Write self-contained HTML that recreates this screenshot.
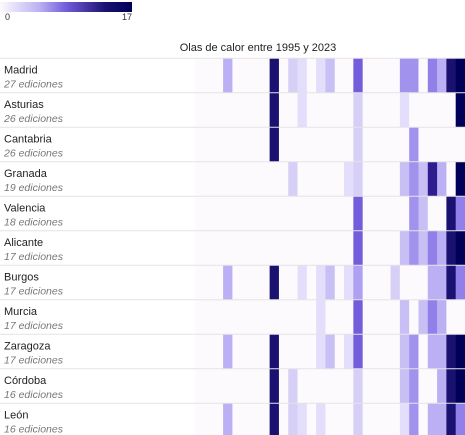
<!DOCTYPE html>
<html><head><meta charset="utf-8"><style>
body{margin:0;width:465px;height:435px;background:#fff;font-family:"Liberation Sans",sans-serif;overflow:hidden}
svg{display:block}
</style></head><body>
<svg id="chart" width="465" height="435">
<defs><linearGradient id="lg" x1="0" x2="1" y1="0" y2="0">
<stop offset="0" stop-color="#fdfafd"/><stop offset="0.3" stop-color="#bbb0f3"/><stop offset="0.5" stop-color="#735ddb"/><stop offset="0.8" stop-color="#1a1270"/><stop offset="1" stop-color="#000058"/></linearGradient></defs>
<rect x="0" y="2" width="132" height="10" fill="url(#lg)"/>
<text x="5" y="20" font-size="9" fill="#333">0</text>
<text x="132" y="20" font-size="9" fill="#333" text-anchor="end">17</text>
<text x="258" y="51" font-size="11" fill="#222" text-anchor="middle">Olas de calor entre 1995 y 2023</text>
<g id="cells"></g><g id="labels"></g>
</svg>
<script>
const cities=["Madrid","Asturias","Cantabria","Granada","Valencia","Alicante","Burgos","Murcia","Zaragoza","Córdoba","León"];
const editions=[27,26,26,19,18,17,17,17,17,16,16];
const years=[1995,1996,1997,1998,1999,2000,2001,2002,2003,2004,2005,2006,2007,2008,2009,2010,2011,2012,2013,2014,2015,2016,2017,2018,2019,2020,2021,2022,2023];
// sparse values: [yearIndex, value] per city
const vMadrid=[[3,4],[8,14],[10,2],[11,1],[13,1],[14,3],[17,8],[22,5],[23,5],[25,6],[26,4],[27,14],[28,17]];
const vAsturias=[[8,14],[11,1],[17,2],[22,1],[28,17]];
const vCantabria=[[8,14],[17,2],[23,5]];
const vGranada=[[10,2],[16,1],[17,2],[22,3],[23,5],[24,3],[25,12],[26,4],[28,17]];
const vValencia=[[17,8],[23,5],[24,3],[27,14],[28,6]];
const vAlicante=[[17,8],[22,3],[23,5],[24,3],[25,6],[26,4],[27,14],[28,17]];
const vBurgos=[[3,4],[8,14],[11,1],[13,1],[14,3],[16,1],[17,4.5],[21,2],[25,4],[26,4],[27,14],[28,6]];
const vMurcia=[[13,1],[17,8],[22,3],[24,3],[25,6],[26,4]];
const vZaragoza=[[3,4],[8,14],[13,1],[14,3],[16,1],[17,8],[22,3],[23,5],[25,4],[26,4],[27,14],[28,17]];
const vCordoba=[[8,14],[10,2],[17,2],[22,3],[23,5],[26,4],[27,14],[28,17]];
const vLeon=[[3,4],[8,14],[10,2],[11,1],[13,1],[17,2],[22,1],[23,5],[25,4],[26,4],[27,14],[28,6]];
const series=[vMadrid,vAsturias,vCantabria,vGranada,vValencia,vAlicante,vBurgos,vMurcia,vZaragoza,vCordoba,vLeon];

const stops=[[0,"#fdfafd"],[1,"#e3defb"],[2,"#d6d0f7"],[3,"#c8bff5"],[4,"#bbb0f3"],[5,"#a192ee"],[6,"#9280ea"],[8,"#735ddb"],[12,"#2d1d8f"],[14,"#1a1270"],[17,"#000058"]];
function hex(c){return [1,3,5].map(i=>parseInt(c.substr(i,2),16));}
function color(v){for(let i=1;i<stops.length;i++){if(v<=stops[i][0]){const[a,ca]=stops[i-1],[b,cb]=stops[i];const t=(v-a)/(b-a);const A=hex(ca),B=hex(cb);return "rgb("+A.map((x,k)=>Math.round(x+(B[k]-x)*t)).join(",")+")";}}return stops[stops.length-1][1];}
const x0=195.2,x1=465,y0=58.3,rowH=34.5;
const cw=(x1-x0)/years.length;
const xS=i=>x0+i*cw, yS=r=>y0+r*rowH;
const NS="http://www.w3.org/2000/svg";
const cg=document.getElementById("cells"),lg=document.getElementById("labels");
cities.forEach((c,r)=>{
  const vals=new Array(years.length).fill(0);
  series[r].forEach(([i,v])=>vals[i]=v);
  vals.forEach((v,i)=>{
    const rc=document.createElementNS(NS,"rect");
    rc.setAttribute("x",xS(i));rc.setAttribute("y",yS(r));
    rc.setAttribute("width",cw+0.4);rc.setAttribute("height",rowH);
    rc.setAttribute("fill",color(v));
    
    
    cg.appendChild(rc);
  });
  const ln=document.createElementNS(NS,"line");
  ln.setAttribute("x1",0);ln.setAttribute("x2",465);ln.setAttribute("y1",yS(r));ln.setAttribute("y2",yS(r));
  ln.setAttribute("stroke","#e6e2e6");ln.setAttribute("stroke-width","1");
  
  
  lg.appendChild(ln);
  const t=document.createElementNS(NS,"text");
  t.setAttribute("x",4);t.setAttribute("y",yS(r)+15);t.setAttribute("font-size","11");t.setAttribute("fill","#222");
  t.textContent=c;
  
  
  lg.appendChild(t);
  const e=document.createElementNS(NS,"text");
  e.setAttribute("x",4);e.setAttribute("y",yS(r)+29);e.setAttribute("font-size","10.5");e.setAttribute("fill","#777");e.setAttribute("font-style","italic");
  e.textContent=editions[r]+" ediciones";
  
  
  lg.appendChild(e);
});
</script>
</body></html>
